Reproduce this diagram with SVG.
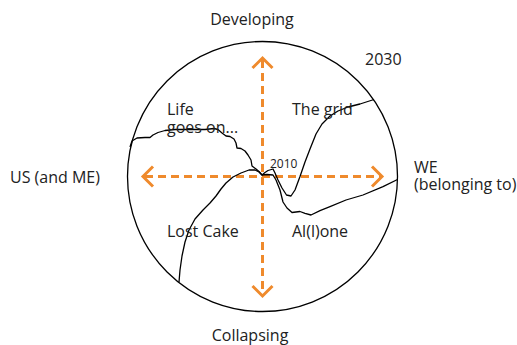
<svg xmlns="http://www.w3.org/2000/svg" width="517" height="345" viewBox="0 0 517 345">
<style>
.t{font-family:"Open Sans","Noto Sans",sans-serif;font-size:16px;fill:#222}
.s{font-size:12px}
.ax{stroke:#EF8A2C;stroke-width:3;fill:none}
.d{stroke-dasharray:8 5}
.c{stroke:#000;stroke-width:1.3;fill:none;stroke-linejoin:round}
</style>
<rect width="517" height="345" fill="#fff"/>
<g id="circle"><circle class="c" cx="262.5" cy="176.5" r="135"/></g>
<g id="connectors">
<line class="ax d" x1="262.5" y1="60" x2="262.5" y2="294"/>
<line class="ax d" x1="145" y1="176.5" x2="380" y2="176.5"/>
<polyline class="ax" points="252.5,68 262.5,58 272.5,68"/>
<polyline class="ax" points="252.5,286 262.5,296 272.5,286"/>
<polyline class="ax" points="153,166.5 143,176.5 153,186.5"/>
<polyline class="ax" points="372,166.5 382,176.5 372,186.5"/>
<path class="c" d="M130,147 L132,141 L137,138 L145,137.5 L150,137.5 L153,135 L158,132.5 L165,130.5 L175,129.5 L190,129.5 L205,129.5 L214,128.5 L218,129.5 L222,133 L226,136 L230,136.5 L234,139 L236,143 L237,148 L241,148.5 L245,151 L248,155 L251,160 L252,166 L256,169 L259,171.5 L262,175 L267,174.5 L273,175 L276,180 L280,190 L283,202 L287,208 L292,212.5 L296,212 L300,211.5 L305,213.3 L311,215 L320,210.7 L330,206.7 L346,200 L363,195 L383,186.7 L397.5,179.5"/>
<path class="c" d="M179,282 L180,270 L182,256 L185,242 L189,230 L195,219 L203,210 L210,203 L216,196 L221,189 L226,183 L233,177 L241,173 L249,170 L255,170 L259,172 L262,175 L265,172.5 L268,170.5 L273,169 L275,173 L278,180 L282,188 L286.5,195 L291,196 L295,190 L300,176.5 L305,162 L310,149 L316,134 L322,124 L330,116 L338,111 L348,107 L360,104 L374,99.5"/>
</g>
<g id="labels">
<text class="t" x="252" y="25" text-anchor="middle">Developing</text>
<text class="t" x="365" y="65">2030</text>
<text class="t" x="167" y="115">Life</text>
<text class="t" x="167" y="133">goes on...</text>
<text class="t" x="292" y="115">The grid</text>
<text class="t s" x="270" y="168">2010</text>
<text class="t" x="10" y="183">US (and ME)</text>
<text class="t" x="414" y="173">WE</text>
<text class="t" x="414" y="190">(belonging to)</text>
<text class="t" x="167" y="237">Lost Cake</text>
<text class="t" x="292" y="237">Al(l)one</text>
<text class="t" x="250" y="341" text-anchor="middle">Collapsing</text>
</g>
</svg>
